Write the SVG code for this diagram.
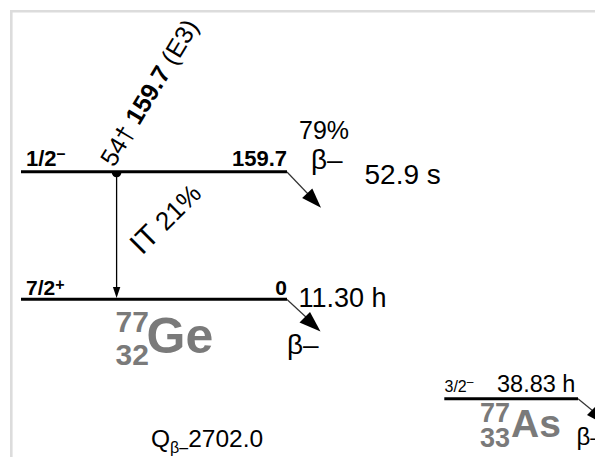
<svg xmlns="http://www.w3.org/2000/svg" width="595" height="457" viewBox="0 0 595 457">
<style>
text{font-family:"Liberation Sans",Arial,Helvetica,sans-serif;fill:#000}
.b{font-weight:bold}
.lvl{stroke:#000;stroke-width:3;fill:none}
.frame{stroke:#dcdcdc;stroke-width:2.6;fill:none}
.beta{stroke:#333;stroke-width:1.2;fill:none}
.nuc{fill:#7a7a7a;font-weight:bold}
</style>
<rect width="595" height="457" fill="#fff"/>
<path class="frame" d="M11.3,470 V11.3 H610"/>

<g id="level-ge77m">
  <line class="lvl" x1="21" y1="171.7" x2="287" y2="171.7"/>
  <text class="b" x="26" y="166" font-size="22">1/2<tspan font-size="16" dy="-7.5">–</tspan></text>
  <text class="b" x="287" y="166" font-size="22" text-anchor="end">159.7</text>
  <text x="299" y="139" font-size="25">79%</text>
  <text x="311" y="168.5" font-size="28">β–</text>
  <text x="364.5" y="184" font-size="28">52.9 s</text>
</g>

<g id="level-ge77">
  <line class="lvl" x1="21" y1="299.2" x2="287" y2="299.2"/>
  <text class="b" x="26" y="294.5" font-size="21">7/2<tspan font-size="16" dy="-5">+</tspan></text>
  <text class="b" x="287" y="295" font-size="21" text-anchor="end">0</text>
  <text x="298.5" y="306.5" font-size="27">11.30 h</text>
  <text x="287" y="354" font-size="28">β–</text>
</g>

<g id="nuclide-ge">
  <text class="nuc" x="115.5" y="331.5" font-size="30">77</text>
  <text class="nuc" x="115.5" y="364.5" font-size="30">32</text>
  <text class="nuc" x="146.5" y="353" font-size="50">Ge</text>
</g>

<g id="level-as77">
  <line class="lvl" x1="444.3" y1="398.7" x2="578" y2="398.7"/>
  <text x="444.5" y="391.7" font-size="16">3/2<tspan font-size="12" dy="-6">–</tspan></text>
  <text x="497" y="391.7" font-size="23.5">38.83 h</text>
  <text x="576.5" y="445" font-size="24">β–</text>
</g>

<g id="nuclide-as">
  <text class="nuc" x="480" y="421.5" font-size="27">77</text>
  <text class="nuc" x="480" y="446.5" font-size="27">33</text>
  <text class="nuc" x="511" y="436.5" font-size="39">As</text>
</g>

<g id="qvalue">
  <text x="151" y="446.5" font-size="24.5">Q<tspan font-size="16" dy="6.5">β–</tspan><tspan dy="-6.5">2702.0</tspan></text>
</g>

<g id="gamma-label">
  <text transform="translate(114,168) rotate(-59)" font-size="25">54† <tspan class="b">159.7</tspan> (E3)</text>
  <text transform="translate(142,256) rotate(-45)"><tspan font-size="30">IT</tspan><tspan font-size="26"> 21%</tspan></text>
</g>

<g id="connectors">
  <path d="M111.8,172.5 A4.8,4.8 0 0 0 121.4,172.5 Z" fill="#000"/>
  <line x1="116.6" y1="174" x2="116.6" y2="290" stroke="#000" stroke-width="1.3"/>
  <polygon points="112.9,287 120.3,287 116.6,298" fill="#000"/>
  <line class="beta" x1="287" y1="172" x2="309" y2="195"/>
  <polygon points="302.1,198 312.3,188.4 321,207.7" fill="#000"/>
  <line class="beta" x1="287" y1="299.5" x2="307" y2="318"/>
  <polygon points="299.5,322.5 310,312 320.5,331.5" fill="#000"/>
  <line class="beta" x1="578" y1="398.7" x2="593" y2="411"/>
  <polygon points="587,415 597,405 606,425" fill="#000"/>
</g>
</svg>
